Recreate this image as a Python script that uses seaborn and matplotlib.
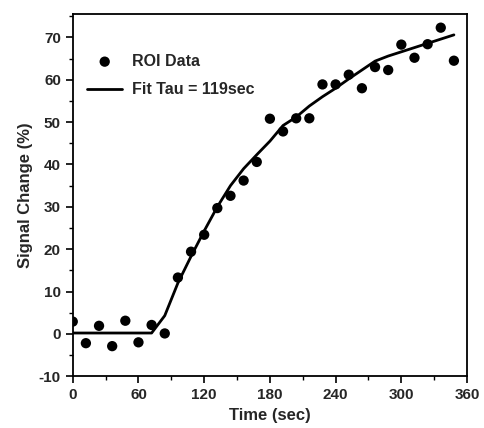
import matplotlib
matplotlib.use("Agg")
import matplotlib.pyplot as plt
from matplotlib.ticker import MultipleLocator
import seaborn as sns
import pandas as pd

# time points (sec)
time_sec = [0, 12, 24, 36, 48, 60, 72, 84, 96, 108, 120, 132, 144, 156, 168,
            180, 192, 204, 216, 228, 240, 252, 264, 276, 288, 300, 312, 324, 336, 348]
# ROI data (% signal change)
roi_data = [2.9, -2.2, 1.9, -2.9, 3.1, -2.0, 2.1, 0.1, 13.3, 19.4, 23.4, 29.7, 32.6, 36.2, 40.6,
            50.8, 47.8, 50.9, 50.9, 58.9, 58.9, 61.2, 58.0, 63.0, 62.3, 68.3, 65.2, 68.4, 72.3, 64.5]
# fitted curve, tau = 119 sec
fit_curve = [0.2, 0.2, 0.2, 0.2, 0.2, 0.2, 0.2, 4.3, 12.0, 18.3, 24.3, 30.0, 35.0, 39.0, 42.3,
             45.5, 49.2, 51.2, 53.8, 56.0, 58.0, 60.2, 62.3, 64.4, 65.6, 66.6, 67.6, 68.6, 69.6, 70.6]

df = pd.DataFrame({"time": time_sec, "roi": roi_data, "fit": fit_curve})

sns.set_style("ticks")
plt.rcParams["font.family"] = ["Liberation Sans", "DejaVu Sans"]
plt.rcParams["font.weight"] = "bold"
plt.rcParams["axes.unicode_minus"] = False

fig = plt.figure(figsize=(4.85, 4.28), dpi=100)
ax = fig.add_axes([0.150, 0.121, 0.813, 0.846])

sns.scatterplot(data=df, x="time", y="roi", ax=ax, color="black", s=55,
                edgecolor="none", label="ROI Data", zorder=3)
sns.lineplot(data=df, x="time", y="fit", ax=ax, color="black", linewidth=2,
             label="Fit Tau = 119sec")

ax.set_xlim(0, 360)
ax.set_ylim(-10, 75.5)
ax.xaxis.set_major_locator(MultipleLocator(60))
ax.xaxis.set_minor_locator(MultipleLocator(30))
ax.yaxis.set_major_locator(MultipleLocator(10))
ax.yaxis.set_minor_locator(MultipleLocator(5))
ax.tick_params(which="major", length=5, width=1.2, labelsize=11, color="black")
ax.tick_params(which="minor", length=3, width=1, color="black")
for lab in ax.get_xticklabels() + ax.get_yticklabels():
    lab.set_fontweight("bold")
for sp in ax.spines.values():
    sp.set_linewidth(1.3)
    sp.set_color("black")

ax.set_xlabel("Time (sec)", fontsize=12, fontweight="bold")
ax.set_ylabel("Signal Change (%)", fontsize=12, fontweight="bold")

leg = ax.legend(loc="upper left", bbox_to_anchor=(0.0, 0.93), frameon=False,
                fontsize=11.5, handlelength=2.2, handletextpad=0.6, labelspacing=0.85)
for t in leg.get_texts():
    t.set_fontweight("bold")

fig.savefig("out.png", dpi=100)
